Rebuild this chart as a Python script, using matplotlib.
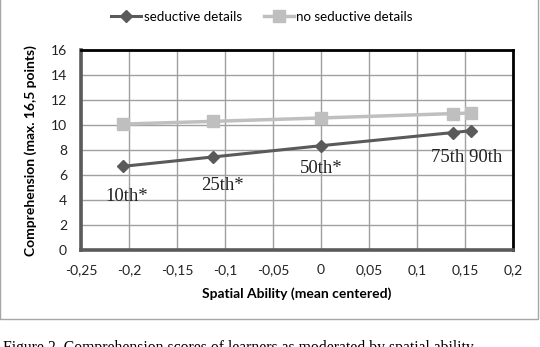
import matplotlib
matplotlib.use("Agg")
import matplotlib.pyplot as plt
from matplotlib.patches import Rectangle

# datos
spatial = [-0.206, -0.1125, 0.0, 0.137, 0.156]
seductive = [6.7, 7.45, 8.35, 9.4, 9.55]
no_seductive = [10.08, 10.3, 10.57, 10.92, 10.97]
pct_labels = ['10th*', '25th*', '50th*', '75th 90th']
pct_pos = [(-0.202, 4.3), (-0.103, 5.2), (0.0, 6.5), (0.152, 7.4)]

xticks = [-0.25, -0.2, -0.15, -0.1, -0.05, 0, 0.05, 0.1, 0.15, 0.2]
xticklabels = ['-0,25', '-0,2', '-0,15', '-0,1', '-0,05', '0', '0,05', '0,1', '0,15', '0,2']
yticks = [0, 2, 4, 6, 8, 10, 12, 14, 16]

dark = '#5a5a5a'
light = '#bfbfbf'
sans = ['Lato', 'DejaVu Sans']
serif = ['Liberation Serif', 'DejaVu Serif']

fig = plt.figure(figsize=(5.4, 3.47), dpi=100)
ax = fig.add_axes([0.15, 0.2795, 0.8, 0.576])

# marco del grafico de Excel
fig.patches.append(Rectangle((0.0, 1 - 319 / 347), 538 / 540, 319 / 347 + 0.01,
                             transform=fig.transFigure, fill=False,
                             edgecolor='#a6a6a6', linewidth=1.0))

ax.plot(spatial, seductive, color=dark, lw=2.2, marker='D', ms=6.5,
        label='seductive details', zorder=4)
ax.plot(spatial, no_seductive, color=light, lw=2.5, marker='s', ms=8,
        label='no seductive details', zorder=3)

for txt, (x, y) in zip(pct_labels, pct_pos):
    ax.text(x, y, txt, family=serif, fontsize=13.5, ha='center', va='center',
            color='#222222', zorder=5)

ax.set_xlim(-0.25, 0.2)
ax.set_ylim(0, 16)
ax.set_xticks(xticks)
ax.set_xticklabels(xticklabels)
ax.set_yticks(yticks)
ax.grid(True, color='#a0a0a0', lw=1.0)
ax.set_axisbelow(True)
ax.tick_params(length=0, labelsize=10, pad=10)
for lab in ax.get_xticklabels() + ax.get_yticklabels():
    lab.set_family(sans)
    lab.set_color('#222222')

ax.spines['left'].set_color(dark)
ax.spines['bottom'].set_color(dark)
ax.spines['left'].set_linewidth(2.6)
ax.spines['bottom'].set_linewidth(2.6)
ax.spines['top'].set_color('black')
ax.spines['right'].set_color('black')
ax.spines['top'].set_linewidth(2.0)
ax.spines['right'].set_linewidth(2.0)

ax.set_xlabel('Spatial Ability (mean centered)', family=sans, fontsize=10,
              fontweight='bold', labelpad=8)
ax.set_ylabel('Comprehension (max. 16,5 points)', family=sans, fontsize=10,
              fontweight='bold', labelpad=10)

fig.legend(loc='center', bbox_to_anchor=(262 / 540, 1 - 17 / 347), ncol=2,
           frameon=False, prop={'family': sans, 'size': 9.6},
           handlelength=2.25, columnspacing=1.65, handletextpad=0.2)

# pie de figura cortado abajo
fig.text(0.005, 1 - 356 / 347, 'Figure 2. Comprehension scores of learners as moderated by spatial ability',
         family=serif, fontsize=11.3, va='bottom', ha='left')

fig.savefig('out.png', dpi=100)
